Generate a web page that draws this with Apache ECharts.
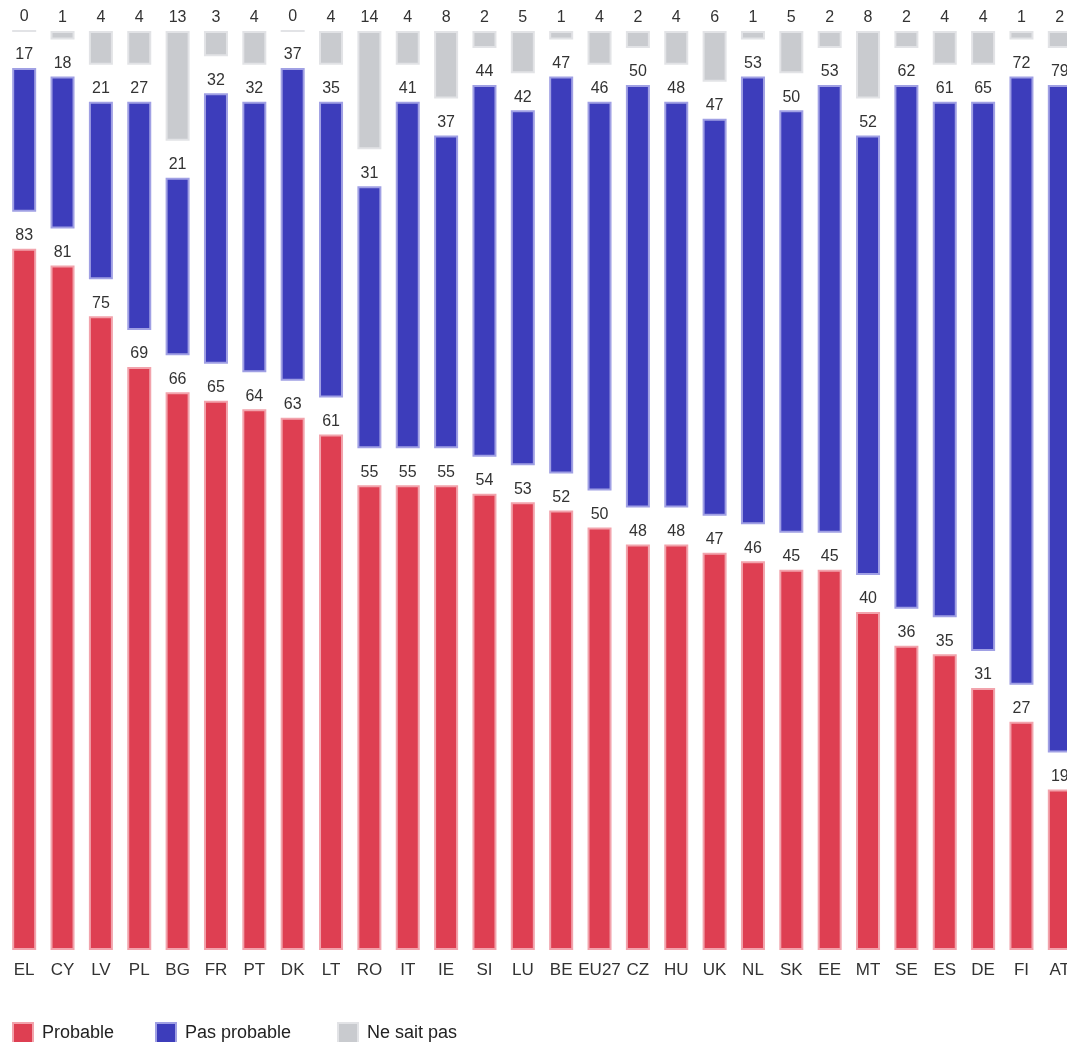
<!DOCTYPE html>
<html>
<head>
<meta charset="utf-8">
<title>Probable / Pas probable</title>
<script src="https://cdn.jsdelivr.net/npm/echarts@6/dist/echarts.min.js"></script>
<style>
  html, body { margin: 0; padding: 0; background: #ffffff; }
  #chart { width: 1067px; height: 1042px; }
</style>
</head>
<body>
<div id="chart"></div>
<script>
// Countries, in descending order of "Probable"
const countries = ['EL', 'CY', 'LV', 'PL', 'BG', 'FR', 'PT', 'DK', 'LT', 'RO', 'IT', 'IE', 'SI', 'LU',
  'BE', 'EU27', 'CZ', 'HU', 'UK', 'NL', 'SK', 'EE', 'MT', 'SE', 'ES', 'DE', 'FI', 'AT'];

// Answers in %
const probable = [83, 81, 75, 69, 66, 65, 64, 63, 61, 55, 55, 55, 54, 53,
  52, 50, 48, 48, 47, 46, 45, 45, 40, 36, 35, 31, 27, 19];
const pasProbable = [17, 18, 21, 27, 21, 32, 32, 37, 35, 31, 41, 37, 44, 42,
  47, 46, 50, 48, 47, 53, 50, 53, 52, 62, 61, 65, 72, 79];
const neSaitPas = [0, 1, 4, 4, 13, 3, 4, 0, 4, 14, 4, 8, 2, 5,
  1, 4, 2, 4, 6, 1, 5, 2, 8, 2, 4, 4, 1, 2];

// Empty space left between the three blocks of each column (in axis units)
const BLOCK_GAP = 4.38;

const FONT = "'Liberation Sans', Arial, Helvetica, sans-serif";

const labelStyle = {
  show: true,
  position: 'top',
  distance: 5,
  color: '#333333',
  fontSize: 16,
  fontFamily: FONT
};

function block(name, values, fill, edge) {
  return {
    name: name,
    type: 'bar',
    stack: 'answers',
    barWidth: 24,
    data: values,
    itemStyle: { color: fill, borderColor: edge, borderWidth: 2 },
    label: labelStyle,
    emphasis: { disabled: true }
  };
}

function spacer(name) {
  return {
    name: name,
    type: 'bar',
    stack: 'answers',
    barWidth: 24,
    silent: true,
    data: countries.map(() => BLOCK_GAP),
    itemStyle: { color: 'rgba(0,0,0,0)' },
    label: { show: false },
    tooltip: { show: false }
  };
}

function legendItem(name, left) {
  return {
    data: [name],
    left: left,
    top: 1022,
    padding: 0,
    itemWidth: 20,
    itemHeight: 20,
    icon: 'rect',
    selectedMode: false,
    textStyle: { color: '#222222', fontSize: 18, fontFamily: FONT, padding: [0, 0, 0, 4] }
  };
}

const chart = echarts.init(document.getElementById('chart'), null, { renderer: 'canvas' });

chart.setOption({
  animation: false,
  backgroundColor: '#ffffff',
  // the last column runs past the right edge of the page
  grid: { left: 5, top: 31, width: 1074, bottom: 92, containLabel: false, outerBoundsMode: 'none' },
  legend: [
    legendItem('Probable', 12),
    legendItem('Pas probable', 155),
    legendItem('Ne sait pas', 337)
  ],
  xAxis: {
    type: 'category',
    data: countries,
    axisLine: { show: false },
    axisTick: { show: false },
    axisLabel: { color: '#333333', fontSize: 17, fontFamily: FONT, margin: 12, interval: 0 }
  },
  yAxis: {
    type: 'value',
    min: 0,
    max: 100 + 2 * BLOCK_GAP,
    show: false,
    splitLine: { show: false }
  },
  series: [
    block('Probable', probable, '#DE3F52', '#F2A3AC'),
    spacer('gap1'),
    block('Pas probable', pasProbable, '#3D3DBB', '#A0A0E4'),
    spacer('gap2'),
    block('Ne sait pas', neSaitPas, '#C9CBCF', '#E2E3E6')
  ]
});
</script>
</body>
</html>
